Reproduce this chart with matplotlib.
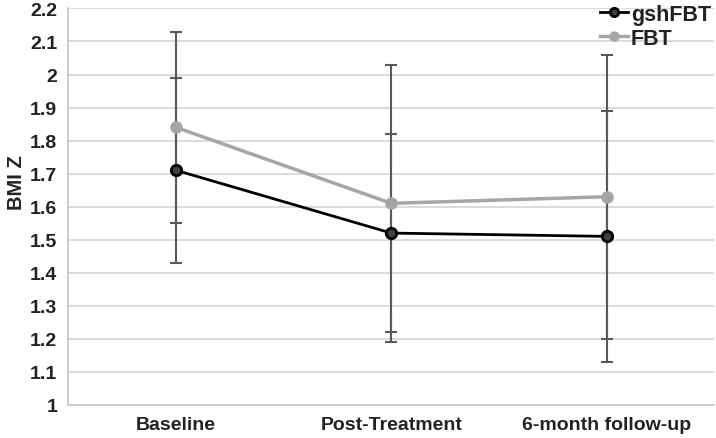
from matplotlib import pyplot as plt
from matplotlib.lines import Line2D

plt.rcParams['font.family'] = ['Liberation Sans', 'DejaVu Sans']

categories = ["Baseline", "Post-Treatment", "6-month follow-up"]
gsh_mean = [1.71, 1.52, 1.51]
gsh_err = [0.28, 0.30, 0.38]
fbt_mean = [1.84, 1.61, 1.63]
fbt_err = [0.29, 0.42, 0.43]
y_ticks = [1.0, 1.1, 1.2, 1.3, 1.4, 1.5, 1.6, 1.7, 1.8, 1.9, 2.0, 2.1, 2.2]
y_labels = ["1", "1.1", "1.2", "1.3", "1.4", "1.5", "1.6", "1.7", "1.8", "1.9", "2", "2.1", "2.2"]

fig = plt.figure(figsize=(7.16, 4.39), dpi=100)
ax = fig.add_axes([0.0955, 0.0755, 0.902, 0.903])

x = list(range(len(categories)))
err_color = "#595959"

ax.errorbar(x, fbt_mean, yerr=fbt_err, fmt="none", ecolor=err_color,
            elinewidth=1.5, capsize=4.5, capthick=1.5, zorder=2)
ax.errorbar(x, gsh_mean, yerr=gsh_err, fmt="none", ecolor=err_color,
            elinewidth=1.5, capsize=4.5, capthick=1.5, zorder=2)
ax.plot(x, fbt_mean, color="#a6a6a6", linewidth=2.5, marker="o", markersize=8,
        markerfacecolor="#a6a6a6", markeredgecolor="#a6a6a6", zorder=3)
ax.plot(x, gsh_mean, color="black", linewidth=2, marker="o", markersize=7.5,
        markerfacecolor="#404040", markeredgecolor="black", markeredgewidth=2, zorder=4)

ax.set_xlim(-0.5, 2.5)
ax.set_ylim(1.0, 2.2)
ax.set_yticks(y_ticks)
ax.set_yticklabels(y_labels)
ax.set_xticks(x)
ax.set_xticklabels(categories)
ax.tick_params(axis="both", length=0, colors="#222222")
ax.tick_params(axis="x", pad=8, labelsize=14)
ax.tick_params(axis="y", pad=8, labelsize=14)
for lab in ax.get_xticklabels() + ax.get_yticklabels():
    lab.set_fontweight("bold")
ax.grid(axis="y", color="#d9d9d9", linewidth=1.3)
ax.set_axisbelow(True)
for side in ["top", "right"]:
    ax.spines[side].set_visible(False)
for side in ["left", "bottom"]:
    ax.spines[side].set_color("#c8c8c8")
    ax.spines[side].set_linewidth(1.3)

ax.set_ylabel("BMI Z", fontsize=14.5, fontweight="bold", color="#222222")
ax.yaxis.set_label_coords(26 / 716, 1 - 183 / 439, transform=fig.transFigure)

handles = [
    Line2D([], [], color="black", linewidth=2, marker="o", markersize=6,
           markerfacecolor="#404040", markeredgecolor="black", markeredgewidth=2),
    Line2D([], [], color="#a6a6a6", linewidth=2.5, marker="o", markersize=6.5,
           markerfacecolor="#a6a6a6", markeredgecolor="#a6a6a6"),
]
leg = ax.legend(handles, ["gshFBT", "FBT"], loc="upper right", bbox_to_anchor=(1.015, 1.045),
                frameon=False, prop={"size": 15.5, "weight": "bold"},
                handlelength=1.3, handletextpad=0.15, labelspacing=0.15, borderpad=0.1)
for t in leg.get_texts():
    t.set_color("#222222")

plt.savefig("out.png", dpi=100)
